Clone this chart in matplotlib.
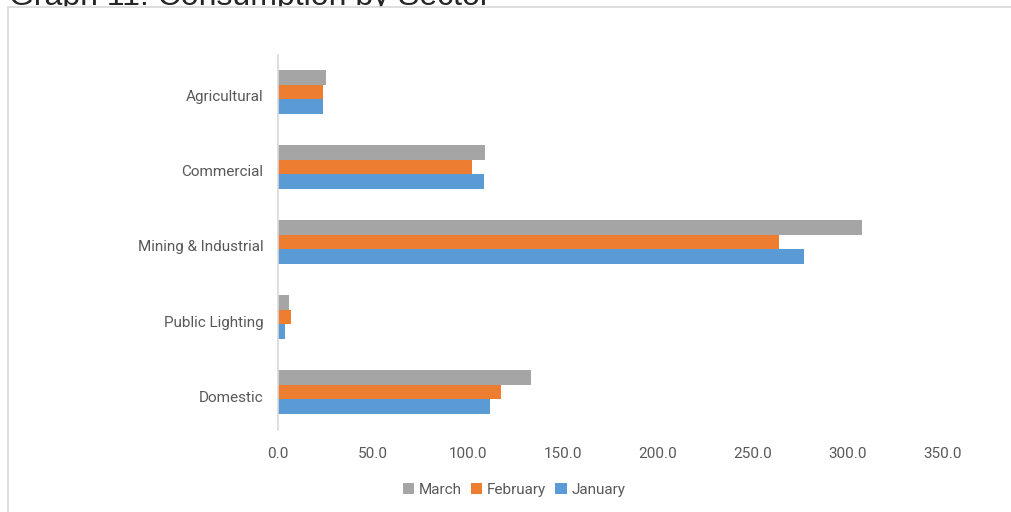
import numpy as np
import matplotlib
matplotlib.use('Agg')
import matplotlib.pyplot as plt
import matplotlib.transforms as mtransforms
from matplotlib.patches import Rectangle

# data
sectors  = ['Domestic', 'Public Lighting', 'Mining & Industrial', 'Commercial', 'Agricultural']
january  = [111.4, 3.5, 277.0, 108.5, 23.6]
february = [117.2, 7.0, 263.7, 102.3, 23.6]
march    = [133.0, 5.6, 307.5, 109.0, 25.5]
xticks   = [0, 50, 100, 150, 200, 250, 300, 350]

c_jan = '#5B9BD5'
c_feb = '#ED7D31'
c_mar = '#A5A5A5'
txt   = '#595959'

plt.rcParams['font.family'] = ['Roboto', 'DejaVu Sans']

fig = plt.figure(figsize=(10.12, 5.12), dpi=100)

# chart box (white, light border) - covers the lower part of the cut title
fig.patches.append(Rectangle((8/1012, -0.1), 1.2, 1 - 7/512 + 0.1,
                             transform=fig.transFigure, facecolor='white',
                             edgecolor='#d9d9d9', linewidth=1.2, zorder=-1))

fig.text(9/1012, 1 - 5/512, 'Graph 11: Consumption by Sector', fontsize=23,
         family=['Liberation Sans', 'DejaVu Sans'], color='#262626',
         va='baseline', zorder=-2)

ax = fig.add_axes([278/1012, 1 - 429.5/512, 665/1012, 375/512])
ax.patch.set_alpha(0)

y = np.arange(len(sectors))
h = 0.196
ax.barh(y - h, january, height=h, color=c_jan, label='January')
ax.barh(y, february, height=h, color=c_feb, label='February')
ax.barh(y + h, march, height=h, color=c_mar, label='March')

ax.set_xlim(0, 350)
ax.set_ylim(-0.5, len(sectors) - 0.5)
ax.set_xticks(xticks)
ax.set_xticklabels(['%.1f' % v for v in xticks])
ax.set_yticks(y)
ax.set_yticklabels(sectors)
ax.tick_params(axis='both', length=0, labelsize=11, labelcolor=txt)
ax.tick_params(axis='x', pad=12.5)
ax.tick_params(axis='y', pad=10.5)

# category labels sit a few pixels below the bar group centre
off = mtransforms.ScaledTranslation(0, -4/100, fig.dpi_scale_trans)
for lbl in ax.get_yticklabels():
    lbl.set_transform(lbl.get_transform() + off)

for s in ['top', 'right', 'bottom']:
    ax.spines[s].set_visible(False)
ax.spines['left'].set_color('#d9d9d9')
ax.spines['left'].set_linewidth(1.2)

handles, labels = ax.get_legend_handles_labels()
leg = fig.legend(handles[::-1], labels[::-1], loc='center', ncol=3,
                 bbox_to_anchor=(514/1012, 1 - 490/512), frameon=False,
                 handlelength=0.75, handleheight=0.75, handletextpad=0.3,
                 columnspacing=0.6, fontsize=11, labelcolor=txt)

fig.savefig('out.png', dpi=100)
